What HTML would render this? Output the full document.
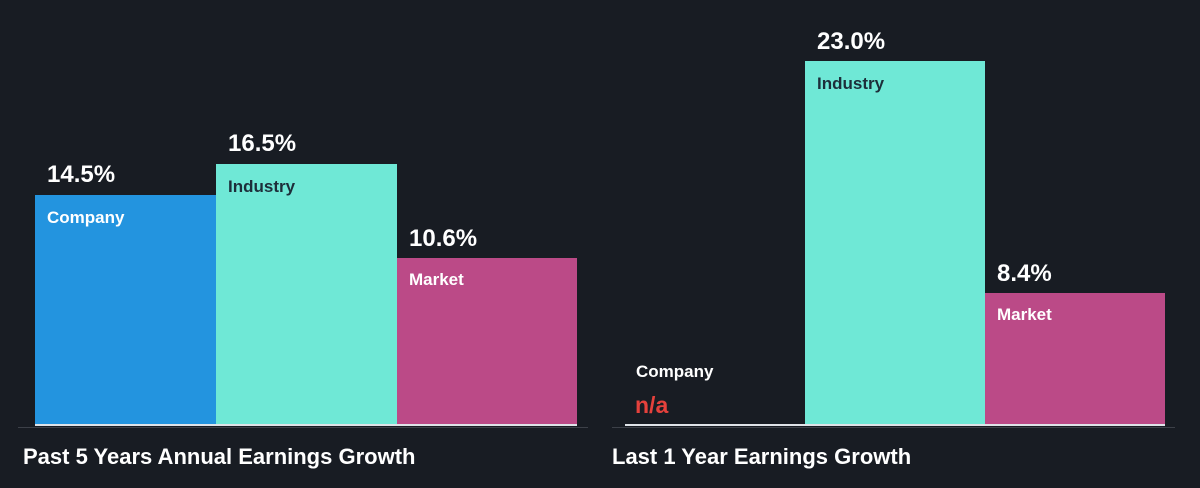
<!DOCTYPE html>
<html><head><style>
body{margin:0;width:1200px;height:488px;background:#181c23;position:relative;overflow:hidden;font-family:"Liberation Sans",Arial,sans-serif;font-weight:bold}
div{position:absolute}
.v{color:#fff;font-size:24px}
.l{font-size:17px}
.t{color:#fff;font-size:22px}
</style></head><body>
<div style="left:35px;top:195px;width:181px;height:230px;background:#2394df"></div>
<div style="left:216px;top:164px;width:181px;height:261px;background:#6fe8d6"></div>
<div style="left:397px;top:258px;width:180px;height:167px;background:#bb4a87"></div>
<div style="left:35px;top:424px;width:542px;height:2px;background:#dfe3e8"></div>
<div style="left:18px;top:427px;width:570px;height:1px;background:#3c4048"></div>
<div class="v" style="left:47px;top:161px">14.5%</div>
<div class="v" style="left:228px;top:130px">16.5%</div>
<div class="v" style="left:409px;top:225px">10.6%</div>
<div class="l" style="left:47px;top:208px;color:#fff">Company</div>
<div class="l" style="left:228px;top:177px;color:#1d2e3a">Industry</div>
<div class="l" style="left:409px;top:270px;color:#fff">Market</div>
<div class="t" style="left:23px;top:444px">Past 5 Years Annual Earnings Growth</div>

<div style="left:805px;top:61px;width:180px;height:364px;background:#6fe8d6"></div>
<div style="left:985px;top:293px;width:180px;height:132px;background:#bb4a87"></div>
<div style="left:625px;top:424px;width:540px;height:2px;background:#dfe3e8"></div>
<div style="left:612px;top:427px;width:563px;height:1px;background:#3c4048"></div>
<div class="v" style="left:817px;top:28px">23.0%</div>
<div class="v" style="left:997px;top:260px">8.4%</div>
<div class="l" style="left:817px;top:74px;color:#1d2e3a">Industry</div>
<div class="l" style="left:997px;top:305px;color:#fff">Market</div>
<div class="l" style="left:636px;top:362px;color:#fff">Company</div>
<div style="left:635px;top:392px;color:#e5413c;font-size:23px">n/a</div>
<div class="t" style="left:612px;top:444px">Last 1 Year Earnings Growth</div>
</body></html>
